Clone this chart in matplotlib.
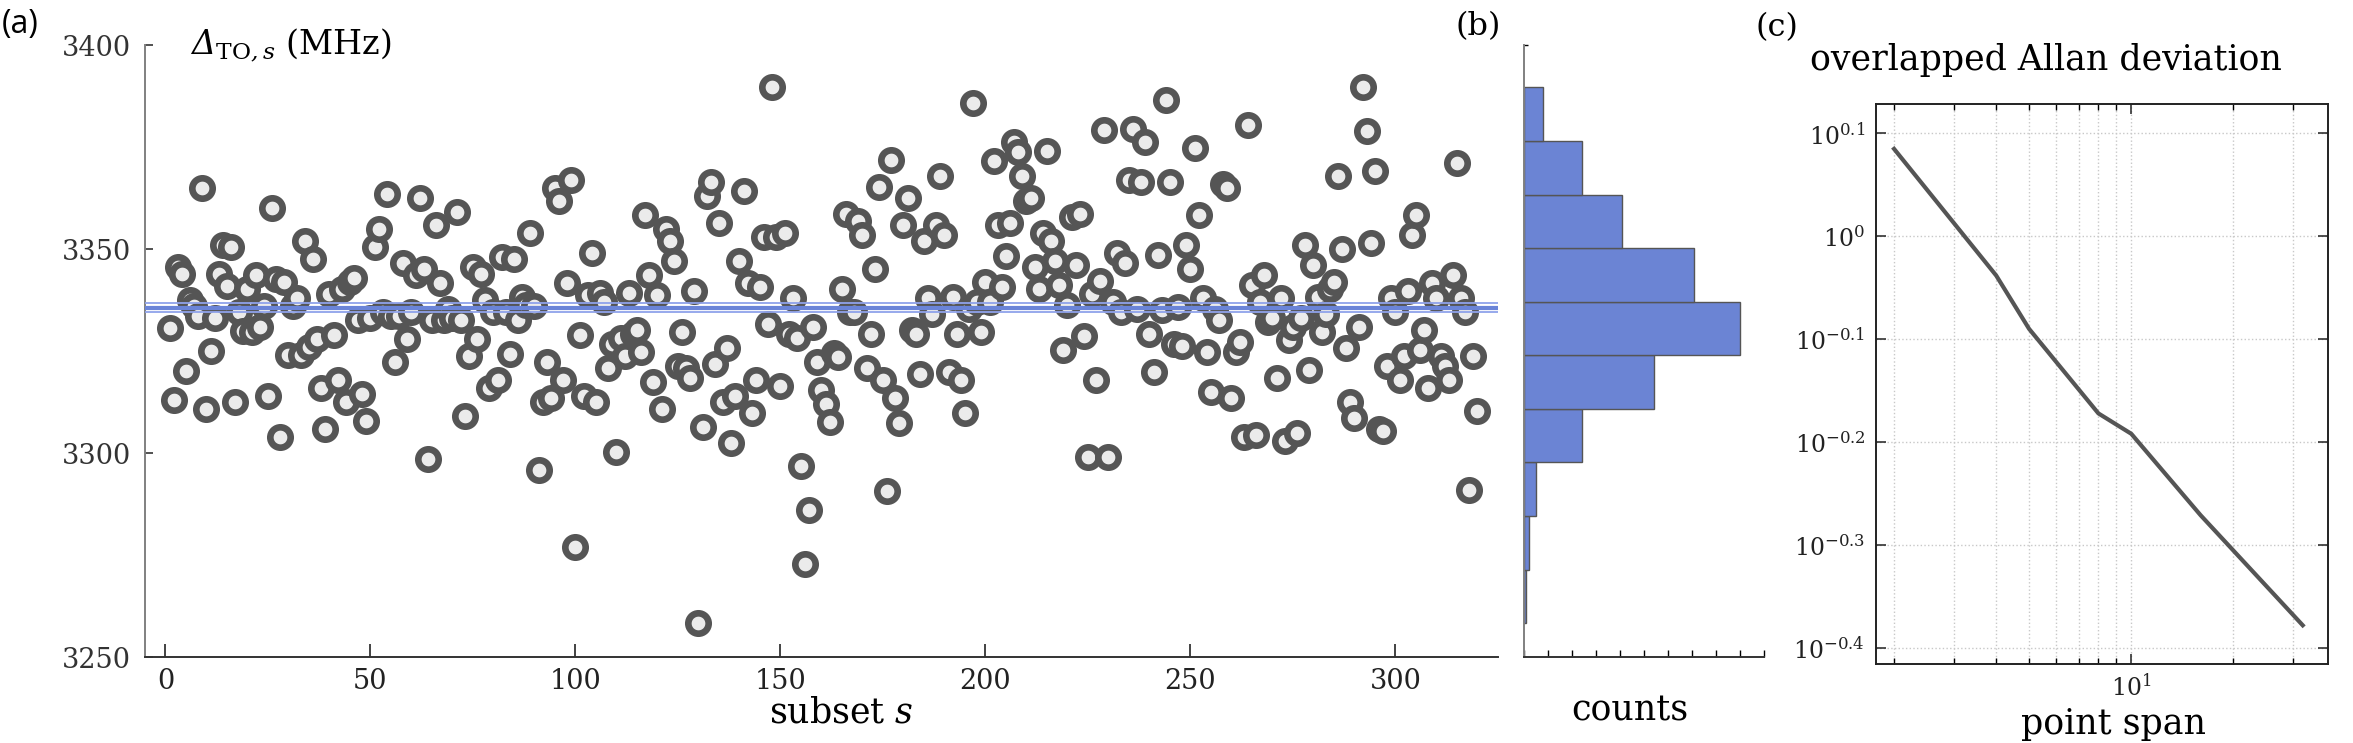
import numpy as np
import matplotlib.pyplot as plt
from matplotlib.ticker import FixedLocator, FixedFormatter, NullLocator, NullFormatter

plt.rcParams['font.family'] = 'DejaVu Serif'
plt.rcParams['mathtext.fontset'] = 'dejavuserif'
# custom math set only used for the Delta label (italic capital Greek)
plt.rcParams['mathtext.rm'] = 'DejaVu Serif:italic'
plt.rcParams['mathtext.it'] = 'DejaVu Serif:italic'
plt.rcParams['mathtext.sf'] = 'DejaVu Serif'

# Delta_TO,s per subset (MHz) in subset order
delta_to = [
    3330.6, 3313, 3345.6, 3344, 3320, 3337.5, 3336, 3333.5, 3365, 3310.7,
    3325, 3333, 3344, 3351, 3341, 3350.5, 3312.6, 3334.5, 3330, 3340.3,
    3329.6, 3343.7, 3331, 3336, 3314, 3360, 3342.7, 3304, 3342, 3324,
    3336, 3338, 3324, 3352, 3326, 3347.6, 3328, 3316, 3305.8, 3339,
    3329, 3318, 3340.3, 3312.6, 3342, 3343, 3332.5, 3314.5, 3307.8, 3333,
    3350.5, 3354.8, 3334.5, 3363.6, 3333.5, 3322.3, 3333.5, 3346.6, 3328, 3334.5,
    3343.7, 3362.6, 3345, 3298.5, 3332.5, 3355.8, 3341.7, 3332.5, 3335.4, 3333,
    3359, 3332.5, 3309, 3323.8, 3345.6, 3328, 3344, 3337.5, 3316, 3334.5,
    3318, 3348,
    3334.5, 3324.3, 3347.6, 3332.5, 3338.3, 3336.4, 3353.9, 3336, 3295.8, 3312.6,
    3322.3, 3313.6, 3365, 3361.7, 3318, 3341.7, 3367, 3277, 3329, 3314,
    3338.8, 3349, 3312.6, 3339.3, 3336.9, 3320.9, 3326.7, 3300.3, 3328.2, 3323.8,
    3339.3, 3329.1, 3330.1, 3324.8, 3358.3, 3343.7, 3317.5, 3338.8, 3310.7, 3354.9,
    3352, 3347, 3321.4, 3329.6, 3320.9, 3318.4, 3339.8, 3258.3, 3306.3, 3363.1,
    3366.5, 3321.8, 3356.3, 3312.6, 3325.7, 3302.4, 3314, 3347, 3364.3, 3341.7,
    3309.7, 3318, 3340.8, 3352.9, 3331.6, 3389.6, 3352.9, 3316.5, 3353.9, 3329.1,
    3337.9, 3328.2, 3296.8, 3272.8, 3286.1, 3331, 3322.3, 3315.5, 3312.1, 3307.5,
    3324.5, 3323.5, 3340.3, 3358.7, 3334.5, 3334.5, 3356.8, 3353.4, 3320.9, 3329.1,
    3345.1, 3365.3, 3318, 3290.8, 3371.8, 3313.6, 3307.3, 3356, 3362.6, 3330.1,
    3329.1, 3319.4, 3352, 3337.9, 3334, 3355.8, 3368, 3353.4, 3319.9, 3338.3,
    3329.1, 3318, 3309.7, 3335.4, 3385.9, 3336.9, 3329.6, 3342, 3336.9, 3371.6,
    3355.8, 3340.8, 3348.3, 3356.3, 3376.2, 3373.8, 3368, 3361.7, 3362.6, 3345.6,
    3340.3, 3353.9, 3374, 3352, 3347, 3341.2, 3325.2, 3336.4, 3357.8, 3346.1,
    3358.7, 3328.6, 3299, 3339, 3318, 3342.2, 3379.1, 3299, 3336.9, 3349,
    3334.5, 3346.6, 3367, 3379.3, 3335.4, 3366.5, 3376.2, 3329.1, 3319.9, 3348.5,
    3335, 3386.6, 3366.5, 3326.7, 3335.9, 3326.2, 3351, 3345.1, 3374.8, 3358.3,
    3337.9, 3324.8, 3315, 3335.4, 3332.5, 3366, 3365, 3313.6, 3324.8, 3327.2,
    3303.9, 3380.3, 3341.2, 3304.4, 3336.9, 3343.7, 3332, 3333, 3318.4, 3337.9,
    3302.9, 3327.7, 3331, 3304.9, 3333, 3351, 3320.4, 3346.1, 3338.3, 3329.6,
    3334, 3340.3, 3342, 3368, 3350, 3325.7, 3312.6, 3308.7, 3331, 3389.6,
    3378.9, 3351.5, 3369.1, 3305.8, 3305.3, 3321.4, 3337.9, 3334.5, 3318, 3323.8,
    3339.8, 3353.4, 3358.3, 3325.2, 3330.1, 3316, 3341.7, 3337.9, 3323.8, 3321.4,
    3318, 3343.7, 3371.1, 3337.9, 3334.5, 3291, 3323.8, 3310.2,
]
subset = np.arange(1, len(delta_to) + 1)

# overlapped Allan deviation
point_span = [2, 4, 5, 8, 10, 16, 32]
allan_dev = [1.216, 0.916, 0.813, 0.673, 0.643, 0.536, 0.419]
adev_exp = [-0.4, -0.3, -0.2, -0.1, 0.0, 0.1]
adev_labels = ['$10^{-0.4}$', '$10^{-0.3}$', '$10^{-0.2}$', '$10^{-0.1}$', '$10^{0}$', '$10^{0.1}$']

mean = np.mean(delta_to)
sem = np.std(delta_to, ddof=1) / np.sqrt(len(delta_to))

LABEL_FS = 25

fig = plt.figure(figsize=(23.53, 7.43), dpi=100)
ax1 = fig.add_axes([0.0616, 0.1157, 0.5750, 0.8237])
ax2 = fig.add_axes([0.6477, 0.1157, 0.1020, 0.8237])
ax3 = fig.add_axes([0.7973, 0.1063, 0.1921, 0.7537])

# (a) scatter
ax1.scatter(subset, delta_to, s=215, facecolor='#ebebeb', edgecolor='#555555',
            linewidths=4.8, zorder=2)
ax1.axhline(mean, color='#6a84d8', lw=3, zorder=3)
ax1.axhline(mean + sem, color='#8fa2ea', lw=1.3, zorder=3)
ax1.axhline(mean - sem, color='#8fa2ea', lw=1.3, zorder=3)
ax1.set_xlim(-5, 325)
ax1.set_ylim(3250, 3400)
ax1.set_xticks(range(0, 301, 50))
ax1.set_yticks([3250, 3300, 3350, 3400])
for sp in ['top', 'right']:
    ax1.spines[sp].set_visible(False)
ax1.spines['left'].set_color('#808080')
ax1.spines['bottom'].set_color('#333333')
ax1.spines['left'].set_linewidth(1.4)
ax1.spines['bottom'].set_linewidth(1.4)
ax1.tick_params(axis='x', direction='in', length=9.5, width=1.2, labelsize=19.5, pad=8,
                colors='#222222')
ax1.tick_params(axis='y', direction='in', length=6, width=1.2, labelsize=19.5, pad=10,
                colors='#333333')
ax1.set_xlabel('subset $s$', fontsize=LABEL_FS)
ax1.xaxis.set_label_coords(0.515, -0.09)
ax1.xaxis.label.set_va('center')
fig.text(190 / 2353, 1 - 45 / 743, r'$\Delta_{\mathsf{TO},s}$ (MHz)',
         fontsize=24, va='center', ha='left', math_fontfamily='custom')

# (b) histogram
ax2.hist(delta_to, bins=10, orientation='horizontal', color='#6b84d4',
         edgecolor='#555555', linewidth=1)
ax2.set_xlim(0, 100)
ax2.set_ylim(3250, 3400)
ax2.set_xticks(range(0, 101, 10))
ax2.set_yticks([3400])
ax2.tick_params(axis='x', direction='in', length=5, width=1, labelbottom=False)
ax2.tick_params(axis='y', direction='in', length=3, width=1, labelleft=False)
for sp in ['top', 'right']:
    ax2.spines[sp].set_visible(False)
ax2.spines['left'].set_color('#808080')
ax2.spines['bottom'].set_color('#333333')
ax2.spines['left'].set_linewidth(1.4)
ax2.spines['bottom'].set_linewidth(1.4)
ax2.set_xlabel('counts', fontsize=LABEL_FS)
ax2.xaxis.set_label_coords(0.44, -0.088)
ax2.xaxis.label.set_va('center')

# (c) Allan deviation
ax3.plot(point_span, allan_dev, color='#555555', lw=3)
ax3.set_xscale('log')
ax3.set_yscale('log')
ax3.set_xlim(1.77, 38)
ax3.set_ylim(10 ** -0.4154, 10 ** 0.1285)
ax3.xaxis.set_major_locator(FixedLocator([10]))
ax3.xaxis.set_major_formatter(FixedFormatter(['$10^{1}$']))
ax3.xaxis.set_minor_locator(FixedLocator([2, 3, 4, 5, 6, 7, 8, 9, 20, 30]))
ax3.xaxis.set_minor_formatter(NullFormatter())
ax3.yaxis.set_major_locator(FixedLocator([10 ** e for e in adev_exp]))
ax3.yaxis.set_major_formatter(FixedFormatter(adev_labels))
ax3.yaxis.set_minor_locator(NullLocator())
ax3.grid(True, which='both', axis='x', ls=':', color='#c8c8c8', lw=1)
ax3.grid(True, which='major', axis='y', ls=':', color='#c8c8c8', lw=1)
ax3.tick_params(which='major', direction='in', length=7, width=1.1, labelsize=17,
                top=True, right=True, pad=8, colors='#222222')
ax3.tick_params(axis='x', which='major', pad=7)
ax3.tick_params(which='minor', direction='in', length=4, width=1, top=True, right=True)
for sp in ax3.spines.values():
    sp.set_color('#222222')
    sp.set_linewidth(1.4)
ax3.set_xlabel('point span', fontsize=LABEL_FS)
ax3.xaxis.set_label_coords(0.525, -0.107)
ax3.xaxis.label.set_va('center')

fig.text(1810 / 2353, 1 - 60 / 743, 'overlapped Allan deviation', fontsize=LABEL_FS,
         ha='left', va='center')

fig.text(2 / 2353, 1 - 24 / 743, '(a)', fontsize=23, family='Open Sans', va='center')
fig.text(1456 / 2353, 1 - 27 / 743, '(b)', fontsize=23, va='center')
fig.text(1756 / 2353, 1 - 28 / 743, '(c)', fontsize=23, va='center')

fig.savefig('out.png', dpi=100)
